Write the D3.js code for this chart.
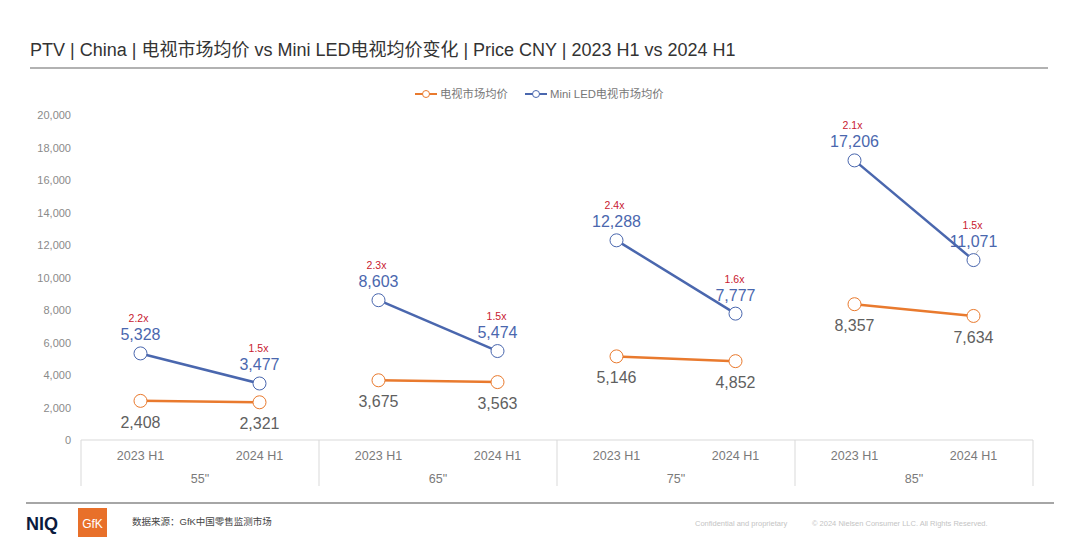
<!DOCTYPE html>
<html><head><meta charset="utf-8">
<script src="https://cdn.jsdelivr.net/npm/d3@7/dist/d3.min.js"></script>
<style>body{margin:0;background:#fff;}svg{display:block;font-family:"Liberation Sans",Arial,"Noto Sans CJK SC",sans-serif;}</style>
</head><body><svg id="c" width="1080" height="544"></svg>
<script>
const groups = ['55"', '65"', '75"', '85"'];
const periods = ["2023 H1", "2024 H1"];
const tvAvg = [2408, 2321, 3675, 3563, 5146, 4852, 8357, 7634];
const miniLedAvg = [5328, 3477, 8603, 5474, 12288, 7777, 17206, 11071];
const ratios = ["2.2x", "1.5x", "2.3x", "1.5x", "2.4x", "1.6x", "2.1x", "1.5x"];
const yTicks = [0, 2000, 4000, 6000, 8000, 10000, 12000, 14000, 16000, 18000, 20000];
const seriesNames = ["电视市场均价", "Mini LED电视市场均价"];

(function () {
const svg = d3.select("#c");
const fontCJK = '"Liberation Sans","Noto Sans CJK SC",sans-serif';
const orange = "#E97A2E", blue = "#4A67AE";

// title
svg.append("text").attr("x", 30).attr("y", 56).attr("font-size", 18).attr("fill", "#333")
  .style("font-family", fontCJK)
  .text("PTV | China | 电视市场均价 vs Mini LED电视均价变化 | Price CNY | 2023 H1 vs 2024 H1");
svg.append("line").attr("x1", 30).attr("x2", 1048).attr("y1", 68).attr("y2", 68).attr("stroke", "#666").attr("stroke-width", 1.2);

const pLeft = 81, pRight = 1033, pTop = 115, pBottom = 440;
const y = d3.scaleLinear().domain([0, 20000]).range([pBottom, pTop]);
const xg = d3.scaleBand().domain(groups).range([pLeft, pRight]);
const xp = d3.scaleBand().domain(periods).range([0, xg.bandwidth()]);

// y axis labels
const yAxis = d3.axisLeft(y).tickValues(yTicks).tickFormat(d3.format(",")).tickSize(0).tickPadding(10);
const ya = svg.append("g").attr("transform", `translate(${pLeft},0)`).call(yAxis);
ya.select(".domain").remove();
ya.selectAll("text").attr("fill", "#8a8a8a").attr("font-size", 11).style("font-family", fontCJK);

// category box
const boxBottom = 486;
svg.append("line").attr("x1", pLeft).attr("x2", pRight).attr("y1", pBottom).attr("y2", pBottom).attr("stroke", "#d9d9d9");
const divs = groups.map(g => xg(g)).concat([pRight]);
divs.forEach(xx => svg.append("line").attr("x1", xx).attr("x2", xx).attr("y1", pBottom).attr("y2", boxBottom).attr("stroke", "#d9d9d9"));

groups.forEach((g, gi) => {
  periods.forEach(p => {
    svg.append("text").attr("x", xg(g) + xp(p) + xp.bandwidth() / 2).attr("y", 460)
      .attr("text-anchor", "middle").attr("font-size", 12.5).attr("fill", "#7a7a7a").text(p);
  });
  svg.append("text").attr("x", xg(g) + xg.bandwidth() / 2).attr("y", 483)
    .attr("text-anchor", "middle").attr("font-size", 12.5).attr("fill", "#7a7a7a").text(g);
});

function px(i) {
  const g = groups[Math.floor(i / 2)], p = periods[i % 2];
  return xg(g) + xp(p) + xp.bandwidth() / 2;
}

function drawSeries(vals, color) {
  groups.forEach((g, gi) => {
    const pts = [0, 1].map(k => [px(gi * 2 + k), y(vals[gi * 2 + k])]);
    svg.append("path").attr("d", d3.line()(pts)).attr("stroke", color).attr("stroke-width", 2.5).attr("fill", "none");
  });
  vals.forEach((v, i) => {
    svg.append("circle").attr("cx", px(i)).attr("cy", y(v)).attr("r", 6.5)
      .attr("fill", "#fff").attr("stroke", color).attr("stroke-width", 1);
  });
}
drawSeries(tvAvg, orange);
drawSeries(miniLedAvg, blue);

// leader line for last label
const li = miniLedAvg.length - 1;
svg.append("line").attr("x1", px(li) + 2).attr("x2", px(li) + 5).attr("y1", y(miniLedAvg[li]) - 6).attr("y2", y(miniLedAvg[li]) - 10)
  .attr("stroke", "#aaa").attr("stroke-width", 0.8);

// labels
tvAvg.forEach((v, i) => {
  svg.append("text").attr("x", px(i)).attr("y", y(v) + 27).attr("text-anchor", "middle")
    .attr("font-size", 16).attr("fill", "#5f5f5f").text(d3.format(",")(v));
});
miniLedAvg.forEach((v, i) => {
  svg.append("text").attr("x", px(i)).attr("y", y(v) - 13).attr("text-anchor", "middle")
    .attr("font-size", 16).attr("fill", blue).text(d3.format(",")(v));
  svg.append("text").attr("x", i % 2 === 0 ? px(i) - 2 : px(i) - 1).attr("y", y(v) - 31).attr("text-anchor", "middle")
    .attr("font-size", 10.5).attr("fill", "#C8202F").text(ratios[i]);
});

// legend
const legend = [{n: seriesNames[0], c: orange, x: 415}, {n: seriesNames[1], c: blue, x: 525}];
legend.forEach(l => {
  const g = svg.append("g").attr("transform", `translate(${l.x},94)`);
  g.append("line").attr("x1", 0).attr("x2", 22).attr("stroke", l.c).attr("stroke-width", 2);
  g.append("circle").attr("cx", 11).attr("r", 3.5).attr("fill", "#fff").attr("stroke", l.c);
  g.append("text").attr("x", 25).attr("y", 4).attr("font-size", 11.3).attr("fill", "#777")
    .style("font-family", fontCJK).text(l.n);
});

// footer
svg.append("line").attr("x1", 26).attr("x2", 1054).attr("y1", 503).attr("y2", 503).attr("stroke", "#888").attr("stroke-width", 1.5);
svg.append("text").attr("x", 26).attr("y", 530).attr("font-size", 18).attr("font-weight", "bold")
  .attr("fill", "#0b1a3d").style("font-family", '"Liberation Sans",Arial').text("NIQ");
svg.append("rect").attr("x", 78).attr("y", 508).attr("width", 29).attr("height", 29).attr("fill", "#E8702A");
svg.append("text").attr("x", 92.5).attr("y", 528).attr("text-anchor", "middle").attr("font-size", 12)
  .attr("fill", "#fff").style("font-family", '"Liberation Sans",Arial').text("GfK");
svg.append("text").attr("x", 132).attr("y", 525).attr("font-size", 9.5).attr("fill", "#444")
  .style("font-family", fontCJK).text("数据来源：GfK中国零售监测市场");
svg.append("text").attr("x", 695).attr("y", 526).attr("font-size", 7.5).attr("fill", "#c4c4c4").text("Confidential and proprietary");
svg.append("text").attr("x", 812).attr("y", 526).attr("font-size", 7.5).attr("fill", "#c4c4c4").text("© 2024 Nielsen Consumer LLC. All Rights Reserved.");
})();
</script></body></html>
